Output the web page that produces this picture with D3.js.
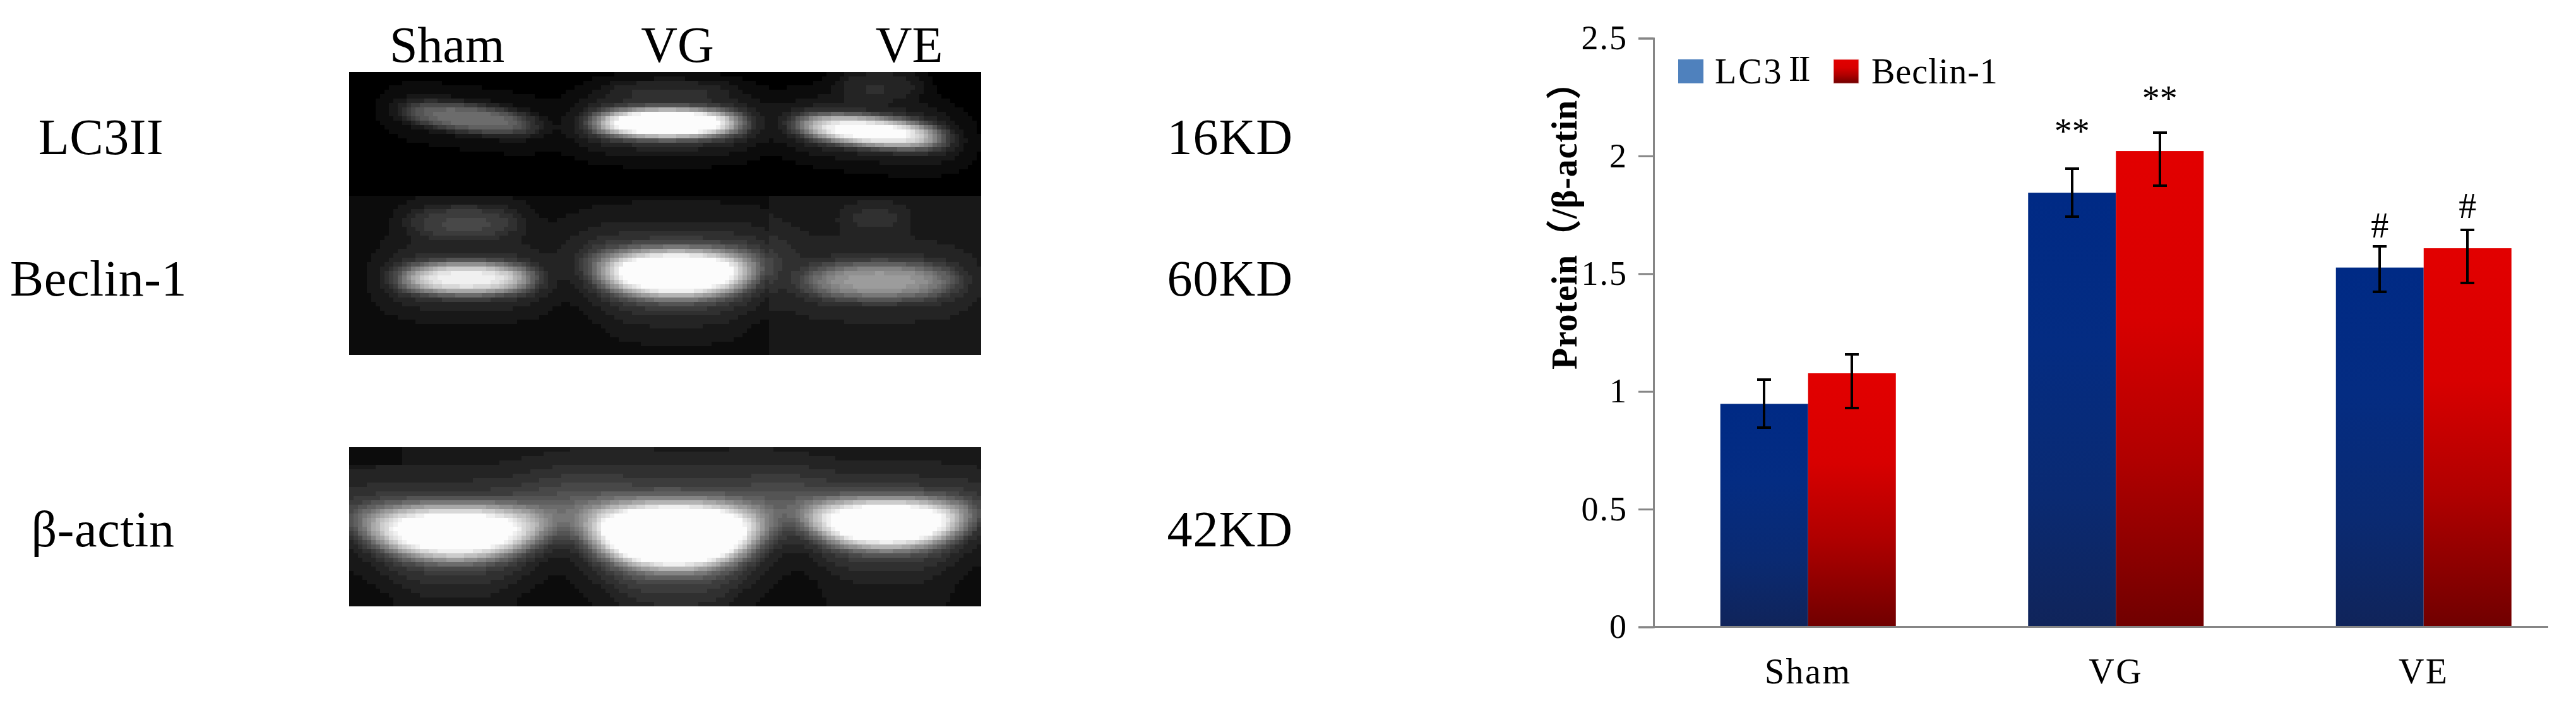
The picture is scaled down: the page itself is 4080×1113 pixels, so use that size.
<!DOCTYPE html>
<html><head><meta charset="utf-8">
<script src="https://cdn.jsdelivr.net/npm/d3@7"></script>
<style>
html,body{margin:0;padding:0;background:#fff;overflow:hidden}
svg{display:block}
text{font-family:"Liberation Serif","Noto Sans CJK SC",serif;fill:#000}
</style></head><body>
<script>
// ---- bar chart data ----
const categories = ["Sham","VG","VE"];
const seriesNames = ["LC3II","Beclin-1"];
const lc3 = [0.947,1.844,1.526];
const beclin = [1.077,2.021,1.608];
const lc3High = [1.05,1.947,1.616];
const lc3Low = [0.847,1.743,1.424];
const beclinHigh = [1.157,2.10,1.687];
const beclinLow = [0.929,1.875,1.46];
const lc3Marks = ["","**","#"];
const beclinMarks = ["","**","#"];
const lc3MarkLevel = [0,2.054,1.655];
const beclinMarkLevel = [0,2.194,1.738];
const yTicks = [0,0.5,1,1.5,2,2.5];
const yTickLabels = ["0","0.5","1","1.5","2","2.5"];
const yTitle = "Protein（/β-actin）";
// ---- blot labels ----
const laneLabels = ["Sham","VG","VE"];
const proteinLabels = ["LC3II","Beclin-1","β-actin"];
const weightLabels = ["16KD","60KD","42KD"];
// ---- blot: background panels [x0,x1,y0,y1,grey] and bands [cx,cy,halfW,halfH,peak,tilt,taper] ----
const gelPanels = [
 [553,1556,114,312,0],[553,1556,312,563,12],[1220,1556,312,563,22],
 [553,1556,708,960,17],[553,640,708,735,3]
];
const gelBands = [
 [743,187,114,21,0.42,0.11,0],[1057,195,122,22,1.2,0,0],[1378,208,120,22,0.98,0.09,0],
 [1393,134,75,24,0.14,0,0],[1060,140,110,15,0.10,0,0],
 [739,441,112,24,0.85,0,0],[736,352,98,26,0.2,0,0],
 [1071,433,130,36,1.15,0,0.1],[1393,445,128,28,0.5,0,0],[1386,344,60,22,0.08,0,0],
 [721,843,148,42,1.05,0,0.22],[1068,848,142,50,1.35,0,0.2],[1404,829,132,38,1.1,0,0.18]
];

const W=4080,H=1113;
const svg=d3.select("body").append("svg").attr("width",W).attr("height",H);
svg.append("rect").attr("width",W).attr("height",H).attr("fill","#fff");
const defs=svg.append("defs");
function grad(id,stops){
  const g=defs.append("linearGradient").attr("id",id).attr("x1",0).attr("y1",0).attr("x2",0).attr("y2",1);
  stops.forEach(s=>g.append("stop").attr("offset",s[0]).attr("stop-color",s[1]));
}
grad("gBlue",[[0,"#002a85"],[0.35,"#042c82"],[0.7,"#0a2a72"],[1,"#10245a"]]);
grad("gRed",[[0,"#e20000"],[0.35,"#d80000"],[0.65,"#b00000"],[1,"#700000"]]);

// ---- gel image, built as grey-level pixel runs ----
const cell=7;
function gelValue(x,y){
  let v=0; let inside=false;
  gelPanels.forEach(p=>{ if(x>=p[0]&&x<p[1]&&y>=p[2]&&y<p[3]){v=p[4];inside=true;} });
  if(!inside) return null;
  const panelTop = y<563;
  let s=0;
  gelBands.forEach(b=>{
    if((b[1]<563)!==panelTop) return;
    const dx=x-b[0];
    const dy=y-b[1]-b[5]*dx;
    const vv=dy/b[3];
    const hw=b[2]*(1-b[6]*Math.max(-1.5,Math.min(2.5,vv)));
    const uu=dx/hw;
    const core=Math.exp(-Math.pow(uu*uu+vv*vv*0.9,1.7)-Math.pow(Math.abs(uu),6)*0.6);
    const glow=Math.exp(-Math.pow(Math.abs(uu)/1.18,4)-Math.pow(Math.abs(vv)/2.0,2));
    s+=b[4]*(0.82*core+0.24*glow);
  });
  return Math.min(255,v+255*Math.min(1,s));
}
const levels=new Map();
const rows=d3.range(114,563,cell).concat(d3.range(708,960,cell));
rows.forEach(y=>{
  d3.range(553,1556,cell).forEach(x=>{
    const g=gelValue(x+cell/2,y+cell/2);
    if(g===null) return;
    const q=Math.round(g/12)*12;
    const w=Math.min(cell,1556-x), h=Math.min(cell,(y<563?563:960)-y);
    levels.set(q,(levels.get(q)||"")+`M${x} ${y}h${w}v${h}h${-w}z`);
  });
});
svg.append("g").attr("shape-rendering","crispEdges").selectAll("path")
  .data(Array.from(levels.entries())).join("path")
  .attr("d",d=>d[1]).attr("fill",d=>{const c=Math.min(255,d[0]);return d3.rgb(c,c,c);});

// ---- blot labels ----
svg.append("g").selectAll("text").data(laneLabels).join("text")
  .attr("x",(d,i)=>[708,1073,1440][i]).attr("y",98)
  .attr("text-anchor","middle").attr("font-size",80).text(d=>d);
svg.append("g").selectAll("text").data(proteinLabels).join("text")
  .attr("x",(d,i)=>[160,156,163][i]).attr("y",(d,i)=>[244,468,865][i])
  .attr("text-anchor","middle").attr("font-size",80).attr("letter-spacing",0.6).text(d=>d);
svg.append("g").selectAll("text").data(weightLabels).join("text")
  .attr("x",2048).attr("y",(d,i)=>[244,468,865][i])
  .attr("text-anchor","end").attr("font-size",80).attr("letter-spacing",1).text(d=>d);

// ---- bar chart ----
const axisColor="#868686";
const y=d3.scaleLinear().domain([0,2.5]).range([992.5,60.5]);
const x0=d3.scaleBand().domain(categories).range([2620,4082.5]);
const bw=139;
const x1=d3.scaleBand().domain(seriesNames).range([x0.bandwidth()/2-bw,x0.bandwidth()/2+bw]);
const series=[
 {name:seriesNames[0],vals:lc3,hi:lc3High,lo:lc3Low,fill:"url(#gBlue)",marks:lc3Marks,lvl:lc3MarkLevel},
 {name:seriesNames[1],vals:beclin,hi:beclinHigh,lo:beclinLow,fill:"url(#gRed)",marks:beclinMarks,lvl:beclinMarkLevel}
];
const chart=svg.append("g");
series.forEach(s=>{
  const g=chart.append("g");
  const cx=i=>x0(categories[i])+x1(s.name)+x1.bandwidth()/2;
  g.selectAll("rect").data(categories).join("rect")
   .attr("x",d=>x0(d)+x1(s.name)).attr("width",x1.bandwidth())
   .attr("y",(d,i)=>y(s.vals[i])).attr("height",(d,i)=>y(0)-y(s.vals[i]))
   .attr("fill",s.fill);
  const e=g.selectAll("g").data(categories).join("g").attr("stroke","#000").attr("stroke-width",4).attr("shape-rendering","crispEdges");
  e.append("line").attr("x1",(d,i)=>cx(i)).attr("x2",(d,i)=>cx(i)).attr("y1",(d,i)=>y(s.hi[i])).attr("y2",(d,i)=>y(s.lo[i]));
  e.append("line").attr("x1",(d,i)=>cx(i)-11).attr("x2",(d,i)=>cx(i)+11).attr("y1",(d,i)=>y(s.hi[i])).attr("y2",(d,i)=>y(s.hi[i]));
  e.append("line").attr("x1",(d,i)=>cx(i)-11).attr("x2",(d,i)=>cx(i)+11).attr("y1",(d,i)=>y(s.lo[i])).attr("y2",(d,i)=>y(s.lo[i]));
  g.selectAll("text").data(categories).join("text")
   .attr("x",(d,i)=>cx(i)).attr("y",(d,i)=>y(s.lvl[i]))
   .attr("text-anchor","middle").attr("font-size",56).text((d,i)=>s.marks[i]);
});
const yAxis=d3.axisLeft(y).tickValues(yTicks).tickSize(24).tickPadding(17)
  .tickFormat((d,i)=>yTickLabels[i]);
const ya=svg.append("g").attr("transform","translate(2619,0)").call(yAxis);
ya.select(".domain").attr("stroke",axisColor).attr("stroke-width",3);
ya.selectAll(".tick line").attr("stroke",axisColor).attr("stroke-width",3);
ya.selectAll(".tick text").attr("font-size",54).attr("font-family","Liberation Serif").attr("letter-spacing",2);
const xAxis=d3.axisBottom(x0).tickSize(0).tickPadding(0);
const xa=svg.append("g").attr("transform",`translate(0,${y(0)})`).call(xAxis);
xa.select(".domain").remove();
xa.selectAll(".tick text").attr("font-size",56).attr("font-family","Liberation Serif").attr("letter-spacing",2.5)
  .attr("dy",0).attr("y",89.5);
svg.append("line").attr("x1",2619).attr("x2",4036).attr("y1",y(0)).attr("y2",y(0)).attr("stroke",axisColor).attr("stroke-width",3);

// legend
const legend=svg.append("g");
legend.append("rect").attr("x",2658).attr("y",94).attr("width",40).attr("height",38).attr("fill","#4f81bd");
legend.append("rect").attr("x",2904).attr("y",94).attr("width",40).attr("height",38).attr("fill","url(#gRed)").attr("stroke","#f0c8c8").attr("stroke-width",1);
legend.append("text").attr("x",2716).attr("y",132).attr("font-size",56).attr("letter-spacing",3).text("LC3");
legend.append("text").attr("x",2833).attr("y",128).attr("font-size",56).attr("letter-spacing",-3).text("II");
legend.append("text").attr("x",2964).attr("y",132).attr("font-size",56).attr("letter-spacing",1).text(seriesNames[1]);

// y title
svg.append("text").attr("transform","translate(2497,585) rotate(-90)")
  .attr("font-size",56).attr("font-weight","bold").attr("letter-spacing",0.8).text(yTitle);
</script>
</body></html>
